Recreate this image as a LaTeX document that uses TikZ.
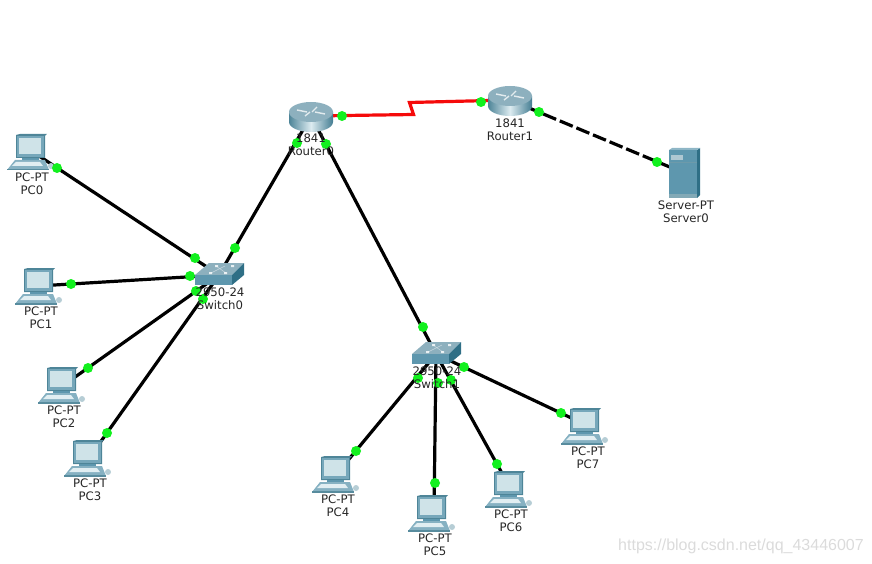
\documentclass[tikz,border=0pt]{standalone}
\usepackage{fontspec}
\setmainfont{DejaVu Sans}
\newfontfamily\markfont{Liberation Sans}
\definecolor{linkgreen}{HTML}{12F01E}
\definecolor{linkred}{HTML}{F50A0A}
\definecolor{devteal}{HTML}{5E97AE}
\definecolor{devdark}{HTML}{2F6F86}
\definecolor{devlight}{HTML}{DCEBF0}
\definecolor{devtop}{HTML}{8DB0BE}
\definecolor{screenlt}{HTML}{CFE3E8}
\tikzset{
  link/.style={line width=3.2pt,black},
  wan/.style={line width=3.2pt,linkred},
  serverlink/.style={line width=3.2pt,black,dash pattern=on 14pt off 4pt},
  portdot/.style={circle,fill=linkgreen,draw=none,minimum size=10pt,inner sep=0pt},
  devlabel/.style={font=\fontsize{11.7}{13}\selectfont,align=center,text=black!85,inner sep=0pt},
  pcdev/.pic={
    % monitor side and back
    \fill[devdark!85] (-14,-17) -- (-10,-18) -- (17,-18) -- (15,-16) -- (15,6) -- (-14,6) -- cycle;
    \fill[devteal!85] (-13,-16) rectangle (14,5);
    \fill[screenlt] (-11,-14) rectangle (11,2);
    \fill[devteal] (-8,6) rectangle (9,9);
    % base and keyboard
    \fill[devteal!75] (-15,8) -- (15,8) -- (19,18) -- (-23,18) -- cycle;
    \fill[devlight!85] (-14,10) -- (10,10) -- (13,14) -- (-18,14) -- cycle;
    \fill[devdark!80] (-23,17) rectangle (19,18.5);
    \fill[devdark!35] (21,14) circle (3);
  },
  routerdev/.pic={
    \shade[left color=devdark!85,right color=devdark!90,middle color=devlight]
      (-22,-5) -- (-22,5) arc[start angle=180,end angle=0,x radius=22,y radius=10] -- (22,-5) -- cycle;
    \fill[devtop] (0,-5) ellipse[x radius=22,y radius=10];
    \draw[white,line width=1.4pt,opacity=.75] (-14,-7) -- (-4,-5) (14,-3) -- (4,-5) (-6,-1) -- (-1,-5) (6,-10) -- (1,-5);
  },
  switchdev/.pic={
    \fill[devtop] (-10,-12) -- (25,-12) -- (13,0) -- (-24,0) -- cycle;
    \fill[devteal] (-24,0) rectangle (13,10);
    \fill[devdark] (13,0) -- (25,-12) -- (25,0) -- (13,10) -- cycle;
    \fill[white,opacity=.8] (-10,-3) rectangle (-7,-1) (5,-3) rectangle (8,-1) (-4,-10) rectangle (-1,-8) (12,-10) rectangle (15,-8);
    \draw[white,opacity=.5,line width=.5pt] (-8,-2) -- (6,-9) (-3,-9) -- (7,-2);
  },
  serverdev/.pic={
    \fill[devdark] (13,-22) -- (16,-24) -- (16,23) -- (13,26) -- cycle;
    \fill[devteal!70!white] (-15,-22) -- (-12,-24) -- (16,-24) -- (13,-22) -- cycle;
    \fill[devteal] (-15,-22) rectangle (13,26);
    \fill[devtop!70!white] (-13,-17) rectangle (-1,-12);
    \draw[devdark!70,line width=.5pt] (-15,-10) -- (13,-10);
    \fill[devdark!60] (-15,22) rectangle (13,26);
  }
}
\begin{document}
\begin{tikzpicture}[x=1pt,y=-1pt]
\useasboundingbox (0,0) rectangle (872,564);
% device anchors
\coordinate (pc0) at (30,150);
\coordinate (pc1) at (38,286);
\coordinate (pc2) at (61,387);
\coordinate (pc3) at (87,461);
\coordinate (pc4) at (335,476);
\coordinate (pc5) at (434,513);
\coordinate (pc6) at (508,484);
\coordinate (pc7) at (584,424);
\coordinate (router0) at (311,116);
\coordinate (router1) at (510,100);
\coordinate (switch0) at (219,275);
\coordinate (switch1) at (436,354);
\coordinate (server0) at (684,173);
\coordinate (bendA) at (413.5,114.5);
\coordinate (bendB) at (409.5,102.5);
% connectors
\draw[link] (pc0) -- (switch0);
\draw[link] (pc1) -- (switch0);
\draw[link] (pc2) -- (switch0);
\draw[link] (pc3) -- (switch0);
\draw[link] (switch0) -- (router0);
\draw[link] (router0) -- (switch1);
\draw[link] (switch1) -- (pc4);
\draw[link] (switch1) -- (pc5);
\draw[link] (switch1) -- (pc6);
\draw[link] (switch1) -- (pc7);
\draw[wan,line join=miter] (router0) -- (bendA) -- (bendB) -- (router1);
\draw[serverlink] (router1) -- (server0);
% devices
\pic at (30,152) {pcdev};
\pic at (38,286) {pcdev};
\pic at (61,385) {pcdev};
\pic at (87,458) {pcdev};
\pic at (335,474) {pcdev};
\pic at (431,513) {pcdev};
\pic at (508,489) {pcdev};
\pic at (584,426) {pcdev};
\pic at (311,117) {routerdev};
\pic at (510,101) {routerdev};
\pic at (219,275) {switchdev};
\pic at (436,354) {switchdev};
\pic at (684,172) {serverdev};
% port lights
\node[portdot] (p0a) at (57,168) {};
\node[portdot] (p0b) at (195,258) {};
\node[portdot] (p1a) at (71,284) {};
\node[portdot] (p1b) at (190,276) {};
\node[portdot] (p2a) at (88,368) {};
\node[portdot] (p2b) at (196,291) {};
\node[portdot] (p3a) at (107,433) {};
\node[portdot] (p3b) at (203,299) {};
\node[portdot] (s0r) at (235,248) {};
\node[portdot] (r0s) at (297,143) {};
\node[portdot] (r0t) at (326,144) {};
\node[portdot] (s1r) at (423,327) {};
\node[portdot] (p4a) at (356,451) {};
\node[portdot] (p4b) at (418,378) {};
\node[portdot] (p5a) at (435,483) {};
\node[portdot] (p5b) at (438,383) {};
\node[portdot] (p6a) at (497,464) {};
\node[portdot] (p6b) at (451,380) {};
\node[portdot] (p7a) at (561,413) {};
\node[portdot] (p7b) at (464,367) {};
\node[portdot] (r0w) at (342,116) {};
\node[portdot] (r1w) at (481,102) {};
\node[portdot] (r1s) at (539,112) {};
\node[portdot] (svp) at (657,162) {};
% labels
\node[devlabel] (lpc0) at (32,183.5) {PC-PT\\PC0};
\node[devlabel] (lpc1) at (41,317.5) {PC-PT\\PC1};
\node[devlabel] (lpc2) at (64,416.5) {PC-PT\\PC2};
\node[devlabel] (lpc3) at (90,489.5) {PC-PT\\PC3};
\node[devlabel] (lpc4) at (338,505.5) {PC-PT\\PC4};
\node[devlabel] (lpc5) at (435,544.5) {PC-PT\\PC5};
\node[devlabel] (lpc6) at (511,520.5) {PC-PT\\PC6};
\node[devlabel] (lpc7) at (588,457.5) {PC-PT\\PC7};
\node[devlabel] (lr0) at (311,145) {1841\\Router0};
\node[devlabel] (lr1) at (510,129.5) {1841\\Router1};
\node[devlabel] (ls0) at (220,298.5) {2950-24\\Switch0};
\node[devlabel] (ls1) at (437,378) {2950-24\\Switch1};
\node[devlabel] (lsv) at (686,211.5) {Server-PT\\Server0};
\node[font=\markfont\fontsize{16}{18}\selectfont,text=black!14,inner sep=0pt] (mark) at (741,546) {https://blog.csdn.net/qq\_43446007};
\end{tikzpicture}
\end{document}
